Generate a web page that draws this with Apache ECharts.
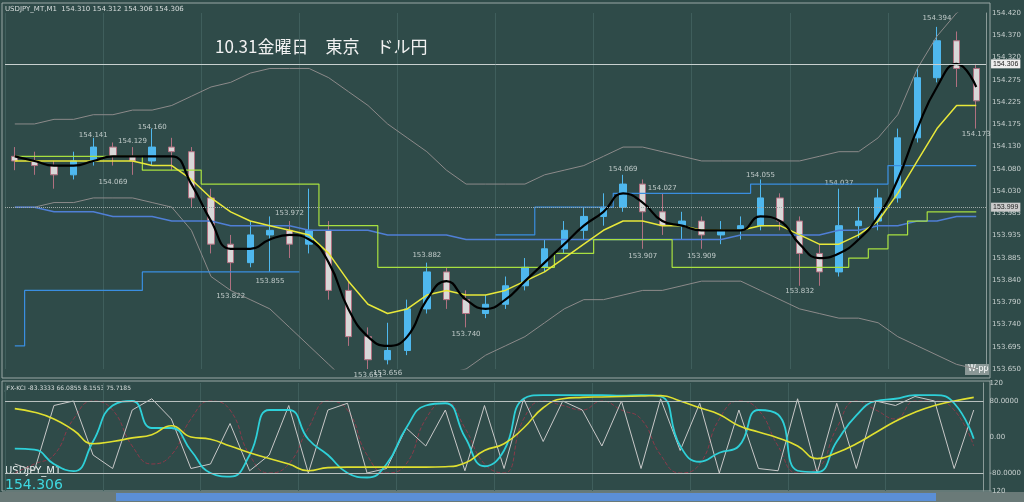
<!DOCTYPE html>
<html><head><meta charset="utf-8">
<script src="https://cdn.jsdelivr.net/npm/echarts@6/dist/echarts.min.js"></script>
<style>html,body{margin:0;padding:0;background:#2f4b49}#c{width:1024px;height:502px}</style>
</head><body><div id="c"></div>
<script>
const priceTicks=['154.420','154.370','154.320','154.275','154.225','154.175','154.130','154.080','154.030','153.985','153.935','153.885','153.840','153.790','153.740','153.695','153.650'];
const candles=[[154.11,154.10,154.08,154.13],[154.10,154.09,154.07,154.12],[154.09,154.07,154.04,154.10],[154.07,154.10,154.06,154.12],[154.10,154.13,154.09,154.15],[154.13,154.11,154.09,154.14],[154.11,154.10,154.07,154.13],[154.10,154.13,154.09,154.17],[154.13,154.12,154.08,154.15],[154.12,154.02,154.00,154.13],
[154.02,153.92,153.90,154.04],[153.92,153.88,153.82,153.94],[153.88,153.94,153.87,153.97],[153.94,153.95,153.86,153.98],[153.95,153.92,153.89,153.97],[153.92,153.95,153.90,154.04],[153.95,153.82,153.80,153.97],[153.82,153.72,153.70,153.84],[153.72,153.67,153.65,153.74],[153.67,153.69,153.66,153.75],
[153.69,153.78,153.68,153.80],[153.78,153.86,153.77,153.88],[153.86,153.80,153.78,153.87],[153.80,153.77,153.74,153.82],[153.77,153.79,153.76,153.81],[153.79,153.83,153.78,153.85],[153.83,153.87,153.82,153.89],[153.87,153.91,153.86,153.93],[153.91,153.95,153.90,153.97],[153.95,153.98,153.93,154.00],
[153.98,154.00,153.96,154.03],[154.00,154.05,153.99,154.07],[154.05,153.99,153.91,154.06],[153.99,153.96,153.94,154.03],[153.96,153.97,153.93,153.99],[153.97,153.94,153.91,153.98],[153.94,153.95,153.92,153.97],[153.95,153.96,153.93,153.98],[153.96,154.02,153.95,154.06],[154.02,153.97,153.95,154.03],
[153.97,153.90,153.83,153.98],[153.90,153.86,153.83,153.92],[153.86,153.96,153.85,154.04],[153.96,153.97,153.93,154.00],[153.97,154.02,153.95,154.04],[154.02,154.15,154.01,154.17],[154.15,154.28,154.14,154.30],[154.28,154.36,154.27,154.39],[154.36,154.30,154.26,154.38],[154.30,154.23,154.17,154.31]];
const maBlack=[154.11,154.10,154.09,154.09,154.10,154.11,154.11,154.11,154.11,154.05,153.97,153.91,153.91,153.93,153.94,153.93,153.88,153.78,153.72,153.70,153.72,153.80,153.84,153.80,153.78,153.80,153.84,153.88,153.92,153.96,153.99,154.03,154.01,153.97,153.96,153.95,153.95,153.95,153.98,153.97,153.92,153.89,153.90,153.93,153.98,154.06,154.17,154.26,154.31,154.26];
const maYellow=[154.10,154.10,154.10,154.10,154.10,154.10,154.10,154.09,154.09,154.06,154.02,153.99,153.97,153.96,153.95,153.94,153.90,153.84,153.79,153.77,153.78,153.81,153.82,153.81,153.81,153.82,153.84,153.86,153.89,153.92,153.95,153.97,153.97,153.96,153.96,153.95,153.95,153.95,153.96,153.96,153.94,153.92,153.92,153.94,153.97,154.03,154.10,154.17,154.22,154.22];
const stepGreen=[154.11,154.11,154.11,154.11,154.11,154.11,154.11,154.08,154.08,154.08,154.05,154.05,154.05,154.05,154.05,154.05,153.96,153.96,153.96,153.87,153.87,153.87,153.87,153.87,153.87,153.87,153.87,153.87,153.90,153.90,153.93,153.93,153.93,153.93,153.87,153.87,153.87,153.87,153.87,153.87,153.87,153.87,153.87,153.89,153.91,153.94,153.97,153.99,153.99,153.99];
const lineBlue=[154.00,154.00,153.99,153.99,153.99,153.98,153.98,153.98,153.97,153.97,153.97,153.96,153.96,153.96,153.96,153.95,153.95,153.95,153.95,153.94,153.94,153.94,153.94,153.93,153.93,153.93,153.93,153.93,153.93,153.93,153.93,153.93,153.93,153.93,153.93,153.93,153.93,153.94,153.94,153.94,153.94,153.94,153.95,153.95,153.96,153.96,153.97,153.97,153.98,153.98];
const stepBlue=[153.70,153.82,153.82,153.82,153.82,153.82,153.82,153.86,153.86,153.86,153.86,153.86,153.86,153.86,153.86,null,null,null,null,null,null,null,null,null,null,153.94,153.94,154.00,154.00,154.00,154.00,154.03,154.03,154.03,154.03,154.03,154.03,154.03,154.05,154.05,154.05,154.05,154.05,154.05,154.05,154.09,154.09,154.09,154.09,154.09];
const bandUpper=[154.18,154.18,154.19,154.19,154.20,154.20,154.21,154.21,154.22,154.24,154.26,154.27,154.29,154.30,154.30,154.30,154.28,154.25,154.22,154.18,154.15,154.12,154.08,154.05,154.05,154.05,154.05,154.07,154.08,154.09,154.11,154.13,154.13,154.12,154.11,154.10,154.10,154.10,154.10,154.10,154.10,154.11,154.12,154.12,154.15,154.20,154.30,154.37,154.42,154.45];
const bandLower=[154.00,154.00,154.01,154.01,154.02,154.02,154.02,154.01,154.00,153.95,153.85,153.82,153.80,153.78,153.74,153.70,153.66,153.62,153.61,153.60,153.60,153.62,153.64,153.65,153.68,153.70,153.72,153.75,153.78,153.80,153.80,153.81,153.82,153.82,153.83,153.84,153.84,153.84,153.82,153.80,153.78,153.77,153.76,153.76,153.75,153.72,153.70,153.68,153.66,153.65];
const priceNotes=[[4,154.141,'top'],[6,154.129,'top'],[7,154.160,'top'],[5,154.069,'bottom'],[11,153.822,'bottom'],[13,153.855,'bottom'],[14,153.972,'top'],[18,153.651,'bottom'],[19,153.656,'bottom'],[21,153.882,'top'],[23,153.740,'bottom'],[31,154.069,'top'],[33,154.027,'top'],[32,153.907,'bottom'],[35,153.909,'bottom'],[38,154.055,'top'],[40,153.832,'bottom'],[42,154.037,'top'],[47,154.394,'top'],[49,154.173,'bottom']];
const oscYellow=[63,55,40,15,-15,-10,-2,5,25,0,-5,-20,-35,-48,-60,-75,-68,-67,-67,-67,-67,-67,-66,-58,-30,-15,20,65,85,88,89,90,91,92,80,65,50,25,11,-2,-20,-48,-35,-15,10,35,55,70,80,88];
const oscCyan=[-26,-28,-60,-76,-10,70,80,20,20,-30,-80,-88,-40,60,60,-5,-40,-80,-90,-60,20,70,75,0,-65,-30,85,93,93,93,93,92,93,90,-20,-55,-35,-20,60,50,-75,-78,-10,48,80,85,93,93,75,-4];
const oscWhite=[-60,-75,70,80,-40,-70,60,85,40,-70,-60,30,-75,-40,70,-80,60,75,-80,-70,20,-20,60,-75,70,-70,85,-10,80,60,-20,80,-70,85,-30,75,-80,60,-70,-75,85,-80,75,-70,80,70,90,80,-70,60];
const oscRed=[-80,-60,-40,40,80,60,-20,-60,-40,40,80,60,-40,-80,-60,20,80,60,-40,-80,-60,40,80,20,-60,-80,40,80,70,60,80,60,40,-40,-80,-60,40,80,60,-20,-80,-70,20,80,60,40,80,80,60,-20];
const cats=candles.map((_,i)=>i);
const lastPrice=154.306;

const ch=echarts.init(document.getElementById('c'));
const lab={color:'#c8d0cf',fontSize:7,fontFamily:'DejaVu Sans'};
const ln=(name,data,color,w,extra)=>Object.assign({type:'line',name,data,symbol:'none',lineStyle:{color,width:w},xAxisIndex:0,yAxisIndex:0,silent:true,animation:false},extra||{});
ch.setOption({
 backgroundColor:'#2f4b49',animation:false,
 grid:[{left:5,right:34,top:13,bottom:133},{left:5,right:34,top:383,bottom:11}],
 xAxis:[{type:'category',data:cats,gridIndex:0,boundaryGap:true,axisLine:{show:false},axisTick:{show:false},axisLabel:{show:false},splitLine:{show:true,interval:4,lineStyle:{color:'#3f5e5c',width:1}}},
        {type:'category',data:cats,gridIndex:1,boundaryGap:true,axisLine:{show:false},axisTick:{show:false},axisLabel:{show:false},splitLine:{show:true,interval:4,lineStyle:{color:'#3f5e5c'}}}],
 yAxis:[{type:'value',gridIndex:0,position:'right',min:153.65,max:154.42,interval:0.048125,axisLine:{show:true,lineStyle:{color:'#8a9a98'}},axisTick:{show:false},splitLine:{show:false},
         axisLabel:Object.assign({},lab,{margin:6,formatter:v=>priceTicks[Math.round((154.42-v)/0.048125)]||''})},
        {type:'value',gridIndex:1,position:'right',min:-120,max:120,interval:40,axisLine:{show:true,lineStyle:{color:'#8a9a98'}},axisTick:{show:false},splitLine:{show:false},
         axisLabel:Object.assign({},lab,{margin:6,formatter:v=>({120:'120',80:'80.0000','0':'0.00','-80':'-80.0000','-120':'-120'})[v]||''})}],
 graphic:[
  {type:'rect',shape:{x:2,y:3,width:988,height:375},style:{fill:'none',stroke:'#9aa8a6',lineWidth:1},silent:true},
  {type:'rect',shape:{x:2,y:381,width:988,height:110},style:{fill:'none',stroke:'#9aa8a6',lineWidth:1},silent:true},
  {type:'rect',shape:{x:0,y:492,width:1024,height:10},style:{fill:'#6a7a78'},silent:true},
  {type:'rect',shape:{x:116,y:493,width:820,height:8},style:{fill:'#5b8fd6'},silent:true},
  {type:'text',left:5,top:6,style:{text:'USDJPY_MT,M1  154.310 154.312 154.306 154.306',fill:'#d8dedd',font:'7px DejaVu Sans'}},
  {type:'text',left:215,top:38,style:{text:'10.31金曜日　東京　ドル円',fill:'#f2f2f2',font:'17px "Noto Sans CJK JP"'}},
  {type:'text',left:5,top:385,style:{text:'JFX-KCI -83.3333 66.0855 8.1553 75.7185',fill:'#d8dedd',font:'6px DejaVu Sans'}},
  {type:'text',left:5,top:466,style:{text:'USDJPY_M1',fill:'#e8eeee',font:'10px DejaVu Sans'}},
  {type:'text',left:5,top:478,style:{text:'154.306',fill:'#3fd8e0',font:'14px DejaVu Sans'}},
  {type:'rect',shape:{x:965,y:364,width:24,height:11},style:{fill:'#8a9896'},silent:true},
  {type:'text',left:968,top:365,style:{text:'W-pp',fill:'#fff',font:'8px DejaVu Sans'}}
 ],
 series:[
  ln('upper',bandUpper,'#8c8a8a',1),
  ln('lower',bandLower,'#8c8a8a',1),
  ln('blue',lineBlue,'#4f7fd6',1.5),
  ln('blueStep',stepBlue,'#3a8ee0',1.2,{step:'middle'}),
  ln('green',stepGreen,'#a8e040',1.2,{step:'middle'}),
  {type:'candlestick',data:candles,xAxisIndex:0,yAxisIndex:0,barWidth:'35%',itemStyle:{color:'#4fb8ee',color0:'#d8d8d8',borderColor:'#4fb8ee',borderColor0:'#b07080'},
   markLine:{symbol:'none',silent:true,
    data:[{yAxis:lastPrice,lineStyle:{color:'#c8d0cf',type:'solid',width:1},label:{show:true,position:'end',color:'#222',backgroundColor:'#eee',fontSize:7,padding:[1,2],formatter:lastPrice.toFixed(3)}},
          {yAxis:154.0,lineStyle:{color:'#a0aaa8',type:'dotted',width:1},label:{show:true,position:'end',color:'#222',backgroundColor:'#ccc',fontSize:7,padding:[1,2],formatter:'153.999'}}]}},
  ln('yellow',maYellow,'#e8e83a',1.5),
  ln('black',maBlack,'#000',2.2,{smooth:true}),
  {type:'scatter',xAxisIndex:0,yAxisIndex:0,symbolSize:0,silent:true,data:priceNotes.map(n=>({value:[n[0],n[1]],label:{show:true,position:n[2],distance:3,formatter:n[1].toFixed(3),color:'#e0e6e5',fontSize:7,fontFamily:'DejaVu Sans'}}))},
  {type:'line',xAxisIndex:1,yAxisIndex:1,data:oscRed,symbol:'none',lineStyle:{color:'#8a3a4a',width:1,type:'dashed'},smooth:true,
   markLine:{symbol:'none',silent:true,label:{show:false},lineStyle:{color:'#b8c0bf',type:'solid',width:1},data:[{yAxis:80},{yAxis:-80}]}},
  {type:'line',xAxisIndex:1,yAxisIndex:1,data:oscWhite,symbol:'none',lineStyle:{color:'#c8c8c8',width:1}},
  {type:'line',xAxisIndex:1,yAxisIndex:1,data:oscCyan,symbol:'none',smooth:true,lineStyle:{color:'#2ed0d8',width:1.8}},
  {type:'line',xAxisIndex:1,yAxisIndex:1,data:oscYellow,symbol:'none',smooth:true,lineStyle:{color:'#e0e030',width:1.6}}
 ]
});
</script></body></html>
